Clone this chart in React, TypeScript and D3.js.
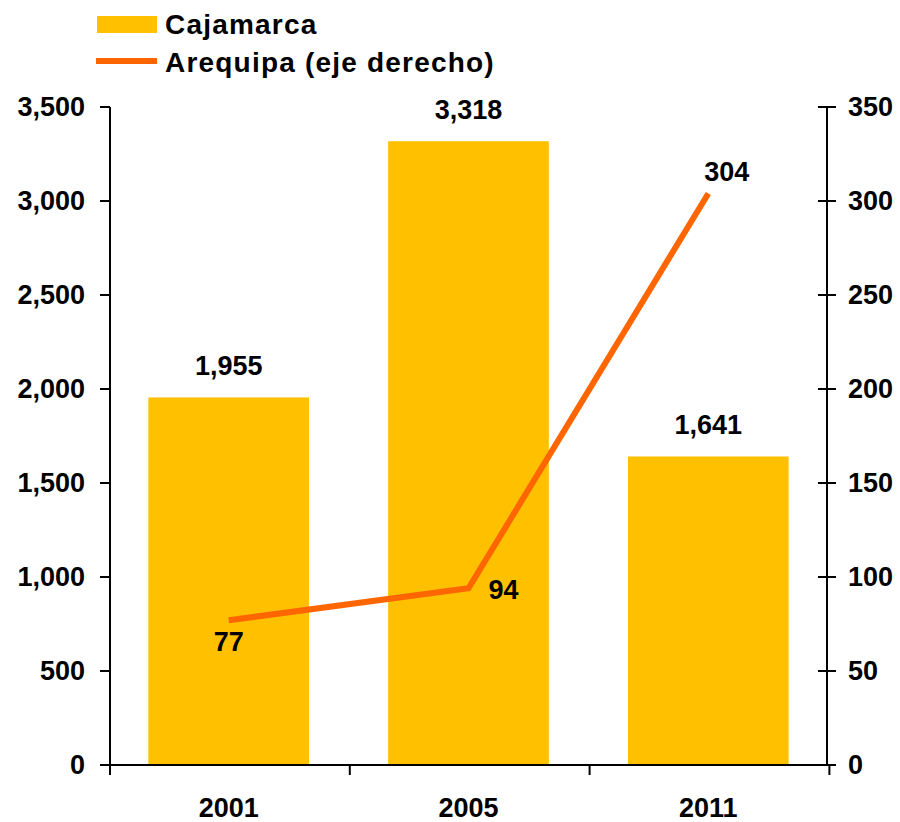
import React from 'react';
import * as d3 from 'd3';

const years = ['2001', '2005', '2011'];
const cajamarca = [1955, 3318, 1641];
const arequipa = [77, 94, 304];
const leftTicks = [0, 500, 1000, 1500, 2000, 2500, 3000, 3500];
const rightTicks = [0, 50, 100, 150, 200, 250, 300, 350];

const FONT = 'Arial, "Liberation Sans", sans-serif';
const FS = 27;

const App: React.FC = () => {
  const width = 900;
  const height = 822;
  const left = 110;
  const right = 827;
  const top = 107;
  const bottom = 765;

  const x = d3.scaleBand<string>()
    .domain(years)
    .range([left, right])
    .paddingInner(0.33)
    .paddingOuter(0.16);

  const yL = d3.scaleLinear().domain([0, 3500]).range([bottom, top]);
  const yR = d3.scaleLinear().domain([0, 350]).range([bottom, top]);

  const fmt = d3.format(',');
  const cx = (d: string) => (x(d) as number) + x.bandwidth() / 2;

  const line = d3.line<number>()
    .x((_, i) => cx(years[i]))
    .y(d => yR(d));

  // label offsets for the line values: below, right, upper right
  const lineLabelPos = [
    { dx: 0, dy: 22, anchor: 'middle' },
    { dx: 20, dy: 2, anchor: 'start' },
    { dx: -4, dy: -21, anchor: 'start' },
  ];

  return (
    <svg width={width} height={height} style={{ position: 'absolute', left: 0, top: 0 }}>
      <rect width={width} height={height} fill="#ffffff" />

      {/* legend */}
      <rect x={97} y={16} width={60} height={17} fill="#FFC000" />
      <text x={165} y={34} fontFamily={FONT} fontWeight="bold" fontSize={28} letterSpacing={1.2} fill="#000">Cajamarca</text>
      <line x1={96} x2={157} y1={61} y2={61} stroke="#FF6600" strokeWidth={6} />
      <text x={165} y={72} fontFamily={FONT} fontWeight="bold" fontSize={28} letterSpacing={1.2} fill="#000">Arequipa (eje derecho)</text>

      {/* bars */}
      {years.map((yr, i) => (
        <g key={yr}>
          <rect
            x={x(yr)}
            y={yL(cajamarca[i])}
            width={x.bandwidth()}
            height={bottom - yL(cajamarca[i])}
            fill="#FFC000"
          />
          <text
            x={cx(yr)}
            y={yL(cajamarca[i]) - 31}
            textAnchor="middle"
            dominantBaseline="central"
            fontFamily={FONT}
            fontWeight="bold"
            fontSize={FS}
          >
            {fmt(cajamarca[i])}
          </text>
        </g>
      ))}

      {/* line */}
      <path d={line(arequipa) as string} fill="none" stroke="#FF6600" strokeWidth={6} />
      {arequipa.map((v, i) => (
        <text
          key={i}
          x={cx(years[i]) + lineLabelPos[i].dx}
          y={yR(v) + lineLabelPos[i].dy}
          textAnchor={lineLabelPos[i].anchor}
          dominantBaseline="central"
          fontFamily={FONT}
          fontWeight="bold"
          fontSize={FS}
        >
          {v}
        </text>
      ))}

      {/* left axis */}
      <line x1={left} x2={left} y1={top} y2={bottom} stroke="#000" strokeWidth={2} />
      {leftTicks.map(t => (
        <g key={t}>
          <line x1={left - 10} x2={left} y1={yL(t)} y2={yL(t)} stroke="#000" strokeWidth={2} />
          <text x={85} y={yL(t)} textAnchor="end" dominantBaseline="central"
            fontFamily={FONT} fontWeight="bold" fontSize={FS}>{fmt(t)}</text>
        </g>
      ))}

      {/* right axis */}
      <line x1={right} x2={right} y1={top} y2={bottom} stroke="#000" strokeWidth={2} />
      {rightTicks.map(t => (
        <g key={t}>
          <line x1={right - 9} x2={right + 9} y1={yR(t)} y2={yR(t)} stroke="#000" strokeWidth={2} />
          <text x={848} y={yR(t)} textAnchor="start" dominantBaseline="central"
            fontFamily={FONT} fontWeight="bold" fontSize={FS}>{t}</text>
        </g>
      ))}

      {/* bottom axis */}
      <line x1={left - 10} x2={right + 9} y1={bottom} y2={bottom} stroke="#000" strokeWidth={2} />
      {[0, 1, 2, 3].map(k => {
        const tx = left + k * x.step();
        return <line key={k} x1={tx} x2={tx} y1={bottom} y2={bottom + 10} stroke="#000" strokeWidth={2} />;
      })}
      {years.map(yr => (
        <text key={yr} x={cx(yr)} y={808} textAnchor="middle" dominantBaseline="central"
          fontFamily={FONT} fontWeight="bold" fontSize={FS}>{yr}</text>
      ))}
    </svg>
  );
};

export default App;
